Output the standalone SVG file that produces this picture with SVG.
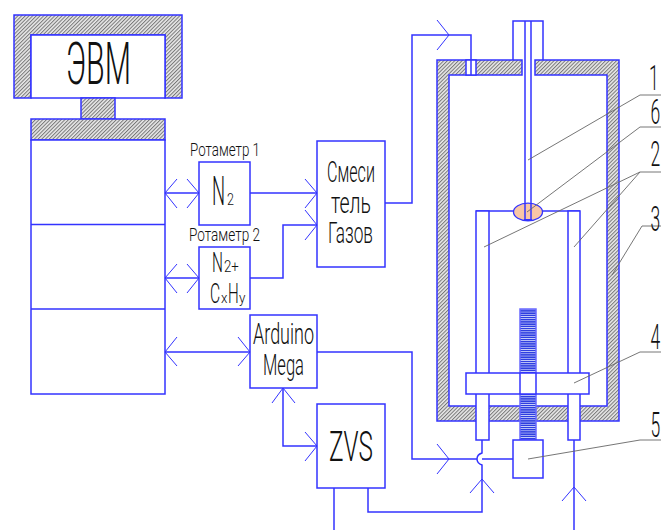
<svg xmlns="http://www.w3.org/2000/svg" width="661" height="530" viewBox="0 0 661 530">
<style>
.l{fill:none;stroke:#3333ff;stroke-width:1.5}
.w{fill:#fff;stroke:#3333ff;stroke-width:1.5}
.h{fill:url(#hatch);stroke:#3333ff;stroke-width:1.5}
.a{fill:none;stroke:#3333ff;stroke-width:1}
.g{fill:none;stroke:#666;stroke-width:0.9}
text{font-family:"Roboto","Liberation Sans",sans-serif;font-weight:300;fill:#111}
.d{font-size:35px}
</style>
<defs>
<pattern id="hatch" width="2.600" height="2.600" patternUnits="userSpaceOnUse" patternTransform="rotate(-45)">
<rect width="2.600" height="2.600" fill="#e8e8e8"/><rect width="2.600" height="1" fill="#777"/>
</pattern>
<pattern id="thread" width="4" height="2.200" patternUnits="userSpaceOnUse">
<rect width="4" height="2.200" fill="#dfe3ff"/><rect width="4" height="1.500" fill="#2f3fe0"/>
</pattern>
</defs>
<rect width="661" height="530" fill="#fff"/>
<g id="computer">
<path class="h" d="M14 15H182V98H165V35H31V98H14Z"/>
<rect class="w" x="31" y="35" width="134" height="63"/>
<rect class="h" x="81" y="98" width="34" height="21"/>
<text x="66" y="84" font-size="59" textLength="65" lengthAdjust="spacingAndGlyphs">ЭВМ</text>
</g>
<g id="rack">
<rect class="h" x="31" y="119" width="134" height="21"/>
<rect class="w" x="31" y="140" width="134" height="254"/>
<path class="l" d="M31 224.500H165M31 309H165"/>
</g>
<g id="rotameter1">
<rect class="w" x="199" y="162" width="51" height="63"/>
<text x="190" y="156" font-size="19" textLength="70" lengthAdjust="spacingAndGlyphs">Ротаметр 1</text>
<text transform="translate(212 205) scale(.46 1)" font-size="40">N</text>
<text transform="translate(227 205) scale(.78 1)" font-size="16">2</text>
</g>
<g id="rotameter2">
<rect class="w" x="199" y="247" width="51" height="62"/>
<text x="189" y="241" font-size="19" textLength="71" lengthAdjust="spacingAndGlyphs">Ротаметр 2</text>
<text transform="translate(212 272) scale(.57 1)" font-size="27">N</text>
<text transform="translate(224 272) scale(.78 1)" font-size="17">2+</text>
<text transform="translate(210 303) scale(.58 1)" font-size="27">C</text>
<text transform="translate(221 303) scale(.88 1)" font-size="15">x</text>
<text transform="translate(228 303) scale(.56 1)" font-size="27">H</text>
<text transform="translate(239 303) scale(.9 1)" font-size="15">y</text>
</g>
<g id="mixer">
<rect class="w" x="317" y="141" width="68" height="126"/>
<text x="327" y="182" font-size="29" textLength="48" lengthAdjust="spacingAndGlyphs">Смеси</text>
<text x="331" y="213" font-size="29" textLength="40" lengthAdjust="spacingAndGlyphs">тель</text>
<text x="328" y="243" font-size="29" textLength="45" lengthAdjust="spacingAndGlyphs">Газов</text>
</g>
<g id="arduino">
<rect class="w" x="250" y="315" width="67" height="73"/>
<text x="253" y="344" font-size="29" textLength="61" lengthAdjust="spacingAndGlyphs">Arduino</text>
<text x="263" y="375" font-size="29" textLength="41" lengthAdjust="spacingAndGlyphs">Mega</text>
</g>
<g id="zvs">
<rect class="w" x="317" y="404" width="68" height="84"/>
<text x="329" y="461" font-size="43" textLength="44" lengthAdjust="spacingAndGlyphs">ZVS</text>
</g>
<g id="chamber">
<path class="h" fill-rule="evenodd" d="M437 60H522V75H449V406H607V75H535V60H619V421H437Z"/>
<rect class="w" x="466" y="60" width="10" height="15"/>
<path class="l" d="M471 60V75"/>
<path class="l" d="M513 60V21H543V60"/>
<path class="l" d="M525 21V213M531 21V213"/>
</g>
<g id="holder">
<path class="l" d="M476 211H580"/>
<rect class="w" x="476" y="211" width="13" height="229"/>
<rect class="w" x="568" y="211" width="12" height="229"/>
</g>
<g id="sample">
<ellipse cx="528" cy="212" rx="14.500" ry="8.800" fill="#f9c6a6" stroke="#3333ff" stroke-width="1.300"/>
<path class="l" d="M525 203V220M531 203V220"/>
<path d="M524 219H532V221H524Z" fill="#3333ff"/>
</g>
<g id="screw">
<rect x="520" y="309" width="16" height="131" fill="url(#thread)" stroke="#6a6aff" stroke-width="1.500"/>
</g>
<g id="plate">
<rect class="w" x="466" y="373" width="123" height="21"/>
<path class="l" d="M520 373V394M536 373V394"/>
</g>
<g id="drive">
<rect class="w" x="513" y="440" width="30" height="38"/>
</g>
<g id="connectors">
<path class="l" d="M165 193H199M250 193H317M165 278H199M250 278H283V225H317M385 203H412V35H471V60"/>
<path class="l" d="M165 352H250M317 352H412V459H477M482 459H513M283 388V446H317M334 488V530M368 488V512H482V465C479 464 477 462 477 459C477 456 479 454 482 453V440M574 440V530"/>
<path class="a" d="M177 179L165 193L177 208M187 179L199 193L187 208M177 264L165 278L177 293M187 264L199 278L187 293M305 179L317 193L305 208M305 210L317 225L305 240M437 20L449 35L437 50M177 337L165 352L177 366M238 337L250 352L238 366M272 403L283 388L295 403M305 432L317 446L305 461M437 444L449 459L437 474M470 493L482 479L494 493M562 501L574 487L586 501"/>
</g>
<g id="leaders">
<path class="g" d="M528 160L640 95H661M527 212L640 127H661M484 247L640 172H661M574 247L640 172M612 275L642 226H661M574 383L640 352H661M528 459L640 440H661"/>
<text class="d" transform="translate(649 90) scale(.5 1)">1</text>
<text class="d" transform="translate(650.500 124) scale(.5 1)">6</text>
<text class="d" transform="translate(650.500 166) scale(.5 1)">2</text>
<text class="d" transform="translate(650.500 231) scale(.5 1)">3</text>
<text class="d" transform="translate(650.500 349) scale(.5 1)">4</text>
<text class="d" transform="translate(650.500 437) scale(.5 1)">5</text>
</g>
</svg>
